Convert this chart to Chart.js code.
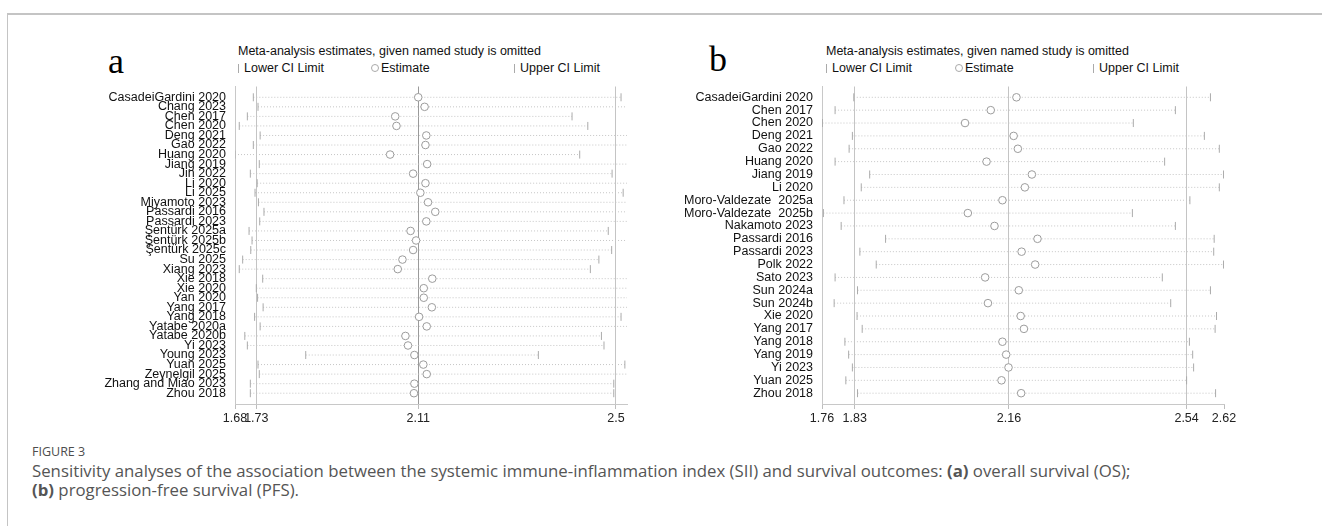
<!DOCTYPE html>
<html><head><meta charset="utf-8">
<script src="https://cdn.jsdelivr.net/npm/chart.js@4.4.1/dist/chart.umd.min.js"></script>
<style>
html,body{margin:0;padding:0;background:#fff;width:1322px;height:526px;overflow:hidden;position:relative;font-family:"Liberation Sans",Arial,sans-serif;}
.abs{position:absolute;white-space:pre;}
.frame{position:absolute;left:7px;top:13px;width:1400px;height:600px;border-top:2px solid #c4c4c4;border-left:1px solid #c4c4c4;}
.letter{font-family:"Liberation Serif","Times New Roman",serif;font-size:36px;line-height:36px;color:#000;}
.ttl{font-size:12.5px;line-height:14px;color:#111;}
.bar{display:inline-block;width:0;height:9px;border-left:1px solid #aaa;margin-right:5px;vertical-align:-1px;}
.circ{display:inline-block;width:6px;height:6px;border:1px solid #aaa;border-radius:50%;margin-right:2px;vertical-align:0px;}
.cap{font-family:"Open Sans",sans-serif;color:#555;}
.chart{position:absolute;}
</style></head><body>
<div class="frame"></div>

<div class="abs letter" style="left:108px;top:43px">a</div>
<div class="abs ttl" style="left:238px;top:44px">Meta-analysis estimates, given named study is omitted</div>
<div class="abs ttl" style="left:238px;top:61px"><span class="bar"></span>Lower CI Limit</div>
<div class="abs ttl" style="left:371px;top:61px"><span class="circ"></span>Estimate</div>
<div class="abs ttl" style="left:514px;top:61px"><span class="bar"></span>Upper CI Limit</div>

<div class="abs letter" style="left:709px;top:41px">b</div>
<div class="abs ttl" style="left:826px;top:44px">Meta-analysis estimates, given named study is omitted</div>
<div class="abs ttl" style="left:826px;top:61px"><span class="bar"></span>Lower CI Limit</div>
<div class="abs ttl" style="left:955px;top:61px"><span class="circ"></span>Estimate</div>
<div class="abs ttl" style="left:1093px;top:61px"><span class="bar"></span>Upper CI Limit</div>

<canvas id="cA" class="chart" width="632" height="360" style="left:0;top:70px"></canvas>
<canvas id="cB" class="chart" width="660" height="360" style="left:590px;top:70px"></canvas>

<div class="abs cap" style="left:32px;top:444px;font-size:12.5px;line-height:16px;color:#4d4d4d;">FIGURE 3</div>
<div class="abs cap" style="left:32px;top:461px;font-size:16.8px;line-height:20px;">Sensitivity analyses of the association between the systemic immune-inflammation index (SII) and survival outcomes: <b>(a)</b> overall survival (OS);</div>
<div class="abs cap" style="left:32px;top:480px;font-size:16.8px;line-height:20px;"><b>(b)</b> progression-free survival (PFS).</div>

<script>
// ---------- Panel a: overall survival ----------
const studiesA = ["CasadeiGardini 2020","Chang 2023","Chen 2017","Chen 2020","Deng 2021","Gao 2022","Huang 2020","Jiang 2019","Jin 2022","Li 2020","Li 2025","Miyamoto 2023","Passardi 2016","Passardi 2023","Şentürk 2025a","Şentürk 2025b","Şentürk 2025c","Su 2025","Xiang 2023","Xie 2018","Xie 2020","Yan 2020","Yang 2017","Yang 2018","Yatabe 2020a","Yatabe 2020b","Yi 2023","Young 2023","Yuan 2025","Zeynelgil 2025","Zhang and Miao 2023","Zhou 2018"];
const lowerA = [1.723,1.734,1.709,1.690,1.739,1.723,1.680,1.737,1.716,1.732,1.727,1.735,1.748,1.738,1.713,1.720,1.717,1.698,1.690,1.745,1.730,1.733,1.746,1.726,1.739,1.703,1.709,1.846,1.734,1.737,1.716,1.716];
const estA = [2.110,2.125,2.056,2.059,2.129,2.127,2.044,2.131,2.098,2.127,2.115,2.133,2.150,2.129,2.092,2.105,2.098,2.073,2.062,2.143,2.123,2.123,2.142,2.112,2.130,2.080,2.086,2.101,2.122,2.130,2.101,2.100];
const upperA = [2.586,2.63,2.471,2.508,2.62,2.64,2.489,2.62,2.565,2.62,2.591,2.63,2.65,2.62,2.556,2.61,2.564,2.534,2.514,2.64,2.62,2.62,2.64,2.586,2.62,2.540,2.546,2.392,2.595,2.63,2.569,2.569];
const tickValsA = [1.68, 1.73, 2.11, 2.574];
const tickLabelsA = ["1.68","1.73","2.11","2.5"];
const refLinesA = [1.73, 2.11, 2.574];

// ---------- Panel b: progression-free survival ----------
const studiesB = ["CasadeiGardini 2020","Chen 2017","Chen 2020","Deng 2021","Gao 2022","Huang 2020","Jiang 2019","Li 2020","Moro-Valdezate  2025a","Moro-Valdezate  2025b","Nakamoto 2023","Passardi 2016","Passardi 2023","Polk 2022","Sato 2023","Sun 2024a","Sun 2024b","Xie 2020","Yang 2017","Yang 2018","Yang 2019","Yi 2023","Yuan 2025","Zhou 2018"];
const lowerB = [1.828,1.788,1.761,1.825,1.818,1.788,1.862,1.844,1.807,1.763,1.801,1.896,1.841,1.876,1.788,1.836,1.786,1.835,1.846,1.809,1.817,1.825,1.811,1.836];
const estB = [2.176,2.121,2.066,2.170,2.179,2.112,2.209,2.194,2.146,2.072,2.129,2.221,2.187,2.216,2.109,2.181,2.115,2.185,2.192,2.146,2.154,2.159,2.144,2.186];
const upperB = [2.591,2.516,2.426,2.578,2.610,2.493,2.619,2.610,2.547,2.424,2.516,2.599,2.598,2.619,2.488,2.591,2.506,2.604,2.601,2.546,2.553,2.555,2.540,2.602];
const tickValsB = [1.76, 1.83, 2.16, 2.54, 2.62];
const tickLabelsB = ["1.76","1.83","2.16","2.54","2.62"];
const refLinesB = [1.83, 2.16, 2.54];

Chart.defaults.font.family = '"Liberation Sans", Arial, sans-serif';

// panel a labels are tall and narrow: use a narrow face if the system has one
function hasFont(name) {
  const c = document.createElement('canvas').getContext('2d');
  const s = 'CasadeiGardini 2020 WMil';
  c.font = '40px monospace'; const a = c.measureText(s).width;
  c.font = '40px "' + name + '", monospace'; const b = c.measureText(s).width;
  return Math.abs(a - b) > 0.5;
}
const narrow = hasFont('Liberation Sans Narrow');
const labelFontA = narrow ? {family: '"Liberation Sans Narrow", "Liberation Sans", Arial, sans-serif', size: 15}
                          : {family: '"Liberation Sans", Arial, sans-serif', size: 12.5};

function buildChart(id, cfg) {
  const pts = arr => arr.map((v, i) => ({x: v, y: i}));
  const dots = [];
  cfg.studies.forEach((s, i) => {
    dots.push({x: cfg.lower[i], y: i}, {x: cfg.upper[i], y: i}, {x: null, y: null});
  });
  return new Chart(document.getElementById(id), {
    type: 'scatter',
    data: {datasets: [
      {label: 'Estimate', data: pts(cfg.est), pointStyle: 'circle', pointRadius: 3.8,
       borderColor: '#9c9c9c', backgroundColor: '#ffffff', borderWidth: 1, order: 0, clip: 0},
      {label: 'Lower CI Limit', data: pts(cfg.lower), pointStyle: 'line', rotation: 90, pointRadius: 4,
       borderColor: '#ababab', borderWidth: 1, order: 1, clip: 0},
      {label: 'Upper CI Limit', data: pts(cfg.upper), pointStyle: 'line', rotation: 90, pointRadius: 4,
       borderColor: '#ababab', borderWidth: 1, order: 1, clip: 0},
      {type: 'line', label: 'range', data: dots, borderColor: '#c6c6c6', borderDash: [1, 2],
       borderWidth: 1, pointRadius: 0, spanGaps: false, fill: false, tension: 0, order: 3, clip: 0}
    ]},
    options: {
      responsive: false, animation: false, devicePixelRatio: 1, events: [],
      layout: {padding: {left: 0, right: cfg.padRight, top: 10, bottom: 0}},
      plugins: {legend: {display: false}, tooltip: {enabled: false}},
      scales: {
        x: {
          type: 'linear', min: cfg.xmin, max: cfg.xmax,
          afterBuildTicks: sc => { sc.ticks = cfg.tickVals.map(v => ({value: v})); },
          afterFit: sc => { sc.height = 26; },
          ticks: {autoSkip: false, maxRotation: 0, minRotation: 0, padding: 2, color: '#222',
                  font: {size: 12.5}, callback: (v, i) => cfg.tickLabels[i]},
          grid: {
            color: c => (c.tick && cfg.refs.includes(c.tick.value)) ? (c.tick.value === cfg.mid ? cfg.midColor : '#c4c4c4') : 'rgba(0,0,0,0)',
            lineWidth: 1, drawTicks: true, tickLength: 5, tickColor: '#bdbdbd'
          },
          border: {display: true, color: '#c8c8c8'}
        },
        y: {
          type: 'linear', reverse: true, min: cfg.ymin, max: cfg.ymax,
          afterBuildTicks: sc => { sc.ticks = cfg.studies.map((s, i) => ({value: i})); },
          afterFit: sc => { sc.width = cfg.yWidth; },
          ticks: {autoSkip: false, padding: 9, color: '#111', font: cfg.labelFont,
                  callback: v => cfg.studies[v]},
          grid: {display: false, drawTicks: false},
          border: {display: true, color: '#c8c8c8'}
        }
      }
    }
  });
}

buildChart('cA', {studies: studiesA, lower: lowerA, est: estA, upper: upperA,
  tickVals: tickValsA, tickLabels: tickLabelsA, refs: refLinesA, mid: 2.11, midColor: '#9a9a9a',
  xmin: 1.68, xmax: 2.60, ymin: -1.13, ymax: studiesA.length - 1 + 1.13,
  yWidth: 235, padRight: 2, labelFont: labelFontA});

buildChart('cB', {studies: studiesB, lower: lowerB, est: estB, upper: upperB,
  tickVals: tickValsB, tickLabels: tickLabelsB, refs: refLinesB, mid: 2.16, midColor: '#c4c4c4',
  xmin: 1.76, xmax: 2.62, ymin: -0.84, ymax: studiesB.length - 1 + 0.84,
  yWidth: 232, padRight: 26, labelFont: {size: 12.5}});
</script>
</body></html>
